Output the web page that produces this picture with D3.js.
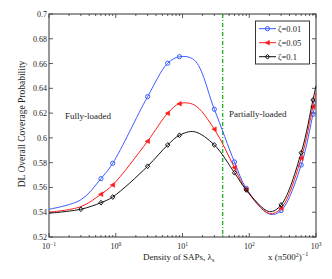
<!DOCTYPE html>
<html><head><meta charset="utf-8">
<script src="https://cdn.jsdelivr.net/npm/d3@7"></script>
<style>body{margin:0;background:#fff}svg{display:block}text{font-family:"Liberation Serif",serif;fill:#222}</style>
</head><body><svg id="c" width="332" height="279"></svg>
<script>
const gridX = [0.1,0.3,0.6,0.9,3,6,9,15,30,60,90,200,300,600,900,1000];
const blueY = [0.5424,0.550,0.5671,0.5795,0.6333,0.6602,0.6655,0.6629,0.6231,0.5806,0.5593,0.5385,0.5413,0.5781,0.619,0.630];
const redY  = [0.540,0.5445,0.5545,0.562,0.5973,0.6199,0.6276,0.6266,0.607,0.576,0.558,0.539,0.5432,0.5836,0.6252,0.636];
const blackY= [0.5392,0.5424,0.5477,0.5523,0.5771,0.5943,0.6021,0.605,0.5943,0.5719,0.558,0.5405,0.5459,0.588,0.6306,0.642];
const blueMarkX = [0.6,0.9,3,6,9,30,60,90,300,600,900];
const redMarkX = [0.6,0.9,3,6,9,30,60,90,300,600,900];
const blackMarkX = [0.3,0.6,0.9,3,6,9,30,60,90,300,600,900];
const seriesNames = ["\u03b6=0.01","\u03b6=0.05","\u03b6=0.1"];
const xTicks = [0.1,1,10,100,1000];
const xTickExp = ["\u22121","0","1","2","3"];
const yTicks = [0.52,0.54,0.56,0.58,0.6,0.62,0.64,0.66,0.68,0.7];
const boundaryX = 40;

const svg = d3.select("#c");
const L=49,R=316,T=14,B=237;
const x = d3.scaleLog().domain([0.1,1000]).range([L,R]);
const y = d3.scaleLinear().domain([0.52,0.7]).range([B,T]);

svg.append("rect").attr("x",L).attr("y",T).attr("width",R-L).attr("height",B-T)
  .attr("fill","none").attr("stroke","#333").attr("stroke-width",1);

const minor=[];
for(let d=0.1; d<1000; d*=10){ for(let k=2;k<=9;k++) minor.push(d*k); }
const tg = svg.append("g").attr("stroke","#333").attr("stroke-width",0.8);
xTicks.forEach(v=>{
  tg.append("line").attr("x1",x(v)).attr("x2",x(v)).attr("y1",B).attr("y2",B-4);
  tg.append("line").attr("x1",x(v)).attr("x2",x(v)).attr("y1",T).attr("y2",T+4);
});
minor.forEach(v=>{
  tg.append("line").attr("x1",x(v)).attr("x2",x(v)).attr("y1",B).attr("y2",B-2);
  tg.append("line").attr("x1",x(v)).attr("x2",x(v)).attr("y1",T).attr("y2",T+2);
});
yTicks.forEach(v=>{
  tg.append("line").attr("x1",L).attr("x2",L+4).attr("y1",y(v)).attr("y2",y(v));
  tg.append("line").attr("x1",R).attr("x2",R-4).attr("y1",y(v)).attr("y2",y(v));
});
yTicks.forEach(v=>{
  svg.append("text").attr("x",L-2).attr("y",y(v)+3).attr("text-anchor","end")
    .attr("font-size",8).text(v===0.6?"0.6":v===0.7?"0.7":v.toFixed(2));
});
xTicks.forEach((v,i)=>{
  const t=svg.append("text").attr("x",x(v)).attr("y",249).attr("text-anchor","middle").attr("font-size",8);
  t.append("tspan").text("10");
  t.append("tspan").attr("dy",-3.5).attr("font-size",5.5).text(xTickExp[i]);
});

svg.append("line").attr("x1",x(boundaryX)).attr("x2",x(boundaryX)).attr("y1",T).attr("y2",B)
  .attr("stroke","#1db31d").attr("stroke-width",1.3).attr("stroke-dasharray","4,2,1,2");

const colors=["#3a5cff","#ff1a1a","#111"];
const data=[blueY,redY,blackY];
const marks=[blueMarkX,redMarkX,blackMarkX];
const line=d3.line().x(d=>x(d[0])).y(d=>y(d[1])).curve(d3.curveCatmullRom.alpha(0.5));
function marker(g,type,cx,cy,c){
  if(type===0) g.append("circle").attr("cx",cx).attr("cy",cy).attr("r",2.1).attr("fill","none").attr("stroke",c).attr("stroke-width",1);
  else if(type===1) g.append("path").attr("d",`M${cx-2.4},${cy}L${cx+1.9},${cy-2.3}L${cx+1.9},${cy+2.3}Z`).attr("fill",c).attr("stroke",c).attr("stroke-width",0.6);
  else g.append("path").attr("d",`M${cx},${cy-2.4}L${cx+2.1},${cy}L${cx},${cy+2.4}L${cx-2.1},${cy}Z`).attr("fill","none").attr("stroke",c).attr("stroke-width",1);
}
data.forEach((ys,i)=>{
  const pts=gridX.map((gx,j)=>[gx,ys[j]]);
  svg.append("path").attr("d",line(pts)).attr("fill","none").attr("stroke",colors[i]).attr("stroke-width",1);
  const g=svg.append("g");
  marks[i].forEach(mx=>{ const j=gridX.indexOf(mx); marker(g,i,x(mx),y(ys[j]),colors[i]); });
});

const lg=svg.append("g");
lg.append("rect").attr("x",255.5).attr("y",21).attr("width",54).attr("height",43).attr("fill","#fff").attr("stroke","#333").attr("stroke-width",1);
seriesNames.forEach((n,i)=>{
  const yy=28.7+i*14;
  lg.append("line").attr("x1",259).attr("x2",276).attr("y1",yy).attr("y2",yy).attr("stroke",colors[i]).attr("stroke-width",1);
  marker(lg,i,267.5,yy,colors[i]);
  lg.append("text").attr("x",278).attr("y",yy+3).attr("font-size",8.5).text(n);
});

svg.append("text").attr("x",65).attr("y",119).attr("font-size",9).text("Fully-loaded");
svg.append("text").attr("x",229).attr("y",117).attr("font-size",9).text("Partially-loaded");

svg.append("text").attr("transform","translate(25,124) rotate(-90)").attr("text-anchor","middle")
  .attr("font-size",9.5).text("DL Overall Coverage Probability");
const xl=svg.append("text").attr("x",143).attr("y",260).attr("font-size",9);
xl.append("tspan").text("Density of SAPs, \u03bb");
xl.append("tspan").attr("dy",2).attr("font-size",6).text("s");
const xu=svg.append("text").attr("x",268).attr("y",260).attr("font-size",9);
xu.append("tspan").text("x (\u03c0500");
xu.append("tspan").attr("dy",-3.5).attr("font-size",6).text("2");
xu.append("tspan").attr("dy",3.5).text(")");
xu.append("tspan").attr("dy",-4.5).attr("font-size",6).text("\u22121");
</script></body></html>
